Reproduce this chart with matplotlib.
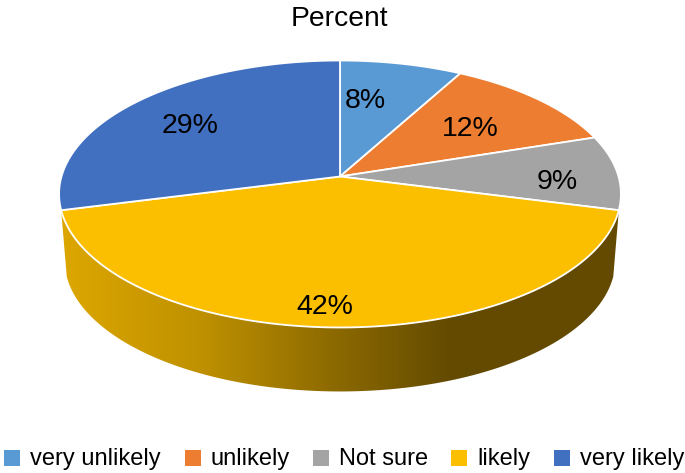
import numpy as np
import matplotlib
matplotlib.use("Agg")
import matplotlib.pyplot as plt
from matplotlib.colors import LinearSegmentedColormap
from matplotlib.patches import Polygon, Rectangle

plt.rcParams['font.family'] = ['Liberation Sans', 'DejaVu Sans']

categories = ["very unlikely", "unlikely", "Not sure", "likely", "very likely"]
percents = [8, 12, 9, 42, 29]
colors = ["#5A9AD4", "#EC7D31", "#A4A4A4", "#FCBF00", "#4270C0"]

# pixel layout of the tilted pie
CX, CY = 340, 176.5
A, B, K = 278.5, 131.2, 0.131
DROP = 67
SHRINK = 0.98

label_xy = [(365, 101), (470, 129), (557, 182), (325, 307), (190, 126)]
legend_x = [4, 185, 313, 451, 554]


#circle to screen with a bit of perspective, theta clockwise from top
def project(theta, scale=1.0, drop=0.0):
    X = np.sin(theta)
    Y = np.cos(theta)
    d = 1 + K * Y
    return CX + scale * A * X / d, CY + drop - scale * B * Y / d


fig = plt.figure(figsize=(6.85, 4.73), dpi=100)
ax = fig.add_axes([0, 0, 1, 1])
ax.set_xlim(0, 685)
ax.set_ylim(473, 0)
ax.axis("off")

edges = np.cumsum([0] + percents) / sum(percents) * 2 * np.pi

# side wall of the biggest slice, shaded left to right
big = int(np.argmax(percents))
t = np.linspace(edges[big], edges[big + 1], 200)
x_top, y_top = project(t)
x_bot, y_bot = project(t[::-1], SHRINK, DROP)
wall = Polygon(np.column_stack([np.r_[x_top, x_bot], np.r_[y_top, y_bot]]),
               closed=True, fc="none", ec="none")
ax.add_patch(wall)
shade = LinearSegmentedColormap.from_list(
    "shade", [(0, "#DDA700"), (0.25, "#BF9100"), (0.5, "#8A6800"),
              (0.70, "#634A00"), (1, "#634A00")])
grad = ax.imshow(np.linspace(0, 1, 560)[None, :], cmap=shade, aspect="auto",
                 extent=(60, 620, 400, 200), zorder=1)
grad.set_clip_path(wall)
ax.set_xlim(0, 685)
ax.set_ylim(473, 0)

# top face
for i, c in enumerate(colors):
    n = max(int(percents[i] * 4), 10)
    t = np.linspace(edges[i], edges[i + 1], n)
    x, y = project(t)
    pts = np.column_stack([np.r_[CX, x], np.r_[CY, y]])
    ax.add_patch(Polygon(pts, closed=True, fc=c, ec="white", lw=1.3, zorder=2,
                         joinstyle="round"))

for (x, y), p in zip(label_xy, percents):
    ax.text(x, y, "%d%%" % p, fontsize=20.5, color="black", ha="center",
            va="center", zorder=3)

ax.text(339.5, 19, "Percent", fontsize=20.3, color="black", ha="center", va="center")

# legend
for x, name, c in zip(legend_x, categories, colors):
    ax.add_patch(Rectangle((x, 450), 16, 15.5, fc=c, ec="none"))
    ax.text(x + 26, 465, name, fontsize=17, color="black", ha="left",
            va="baseline")

fig.savefig("out.png", dpi=100)
